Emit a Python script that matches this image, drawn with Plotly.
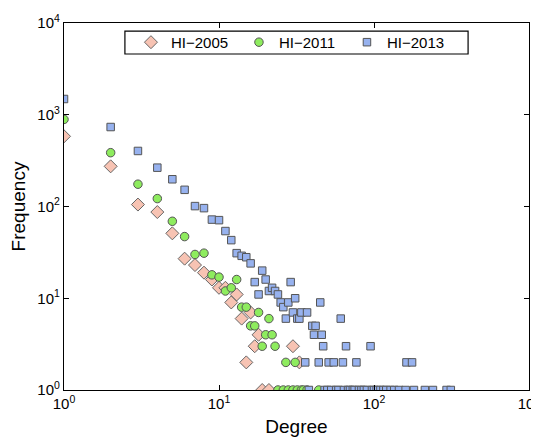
import plotly.graph_objects as go

# HI-2005 (diamonds)
k_2005 = [1, 2, 3, 4, 5, 6, 7, 8, 9, 10, 11, 12, 13, 14, 15, 16, 17, 18, 19, 21, 30, 33]
n_2005 = [582, 274, 105, 87, 51, 27, 23, 19, 16, 13, 13, 9, 11, 6, 2, 7, 3, 4, 1, 1, 3, 2]

# HI-2011 (circles)
k_2011 = [1, 2, 3, 4, 5, 6, 7, 8, 9, 10, 11, 12, 13, 14, 15, 16, 17, 18, 19, 20, 21, 22,
          23, 24, 26, 27, 28, 30, 31, 32, 34, 35, 37, 44]
n_2011 = [890, 386, 175, 122, 69, 47, 30, 31, 18, 17, 12, 13, 16, 8, 8, 5, 5, 7, 3, 4, 6, 4,
          3, 1, 1, 2, 1, 1, 2, 1, 1, 1, 1, 1]

# HI-2013 (squares)
k_2013 = [1, 2, 3, 4, 5, 6, 7, 8, 9, 10, 11, 12, 13, 14, 15, 16, 17, 18, 19, 20, 21, 22,
          23, 24, 25, 26, 27, 28, 29, 30, 31, 32, 33, 34, 36, 37, 38, 40, 41, 42, 44, 45,
          46, 47, 48, 50, 51, 53, 55, 57, 59, 61, 63, 64, 66, 68, 70, 73, 75, 77, 80, 83,
          86, 90, 95, 97, 100, 104, 110, 115, 120, 128, 135, 145, 160, 162, 176, 181, 213,
          240, 294, 313]
n_2013 = [1485, 735, 403, 265, 198, 152, 101, 96, 72, 71, 54, 43, 31, 29, 28, 24, 15, 11,
          20, 16, 12, 13, 12, 11, 9, 8, 6, 9, 15, 7, 10, 6, 6, 7, 2, 7, 1, 5, 4, 5, 2, 9,
          4, 3, 1, 1, 2, 1, 2, 1, 1, 6, 2, 1, 3, 1, 1, 1, 1, 2, 1, 1,
          1, 1, 3, 1, 1, 1, 1, 1, 1, 1, 1, 1, 1, 2, 2, 1, 1,
          1, 1, 1]

series_names = ["HI\u22122005", "HI\u22122011", "HI\u22122013"]
x_tickvals = [1, 10, 100, 1000]
x_ticktext = ["10<sup>0</sup>", "10<sup>1</sup>", "10<sup>2</sup>", "10<sup>3</sup>"]
y_tickvals = [1, 10, 100, 1000, 10000]
y_ticktext = ["10<sup>0</sup>", "10<sup>1</sup>", "10<sup>2</sup>", "10<sup>3</sup>", "10<sup>4</sup>"]

FONT = "Liberation Sans, Arial, sans-serif"

fig = go.Figure()
fig.add_trace(go.Scatter(x=k_2005, y=n_2005, mode="markers", name=series_names[0],
                         marker=dict(symbol="diamond", size=10, color="#F7C3B3",
                                     line=dict(color="#666666", width=1))))
fig.add_trace(go.Scatter(x=k_2011, y=n_2011, mode="markers", name=series_names[1],
                         marker=dict(symbol="circle", size=8.5, color="#8EEC5E",
                                     line=dict(color="#555555", width=1))))
fig.add_trace(go.Scatter(x=k_2013, y=n_2013, mode="markers", name=series_names[2],
                         marker=dict(symbol="square", size=7.5, color="#97B2EF",
                                     line=dict(color="#555555", width=1))))

axis_common = dict(type="log", showgrid=False, zeroline=False, showline=True,
                   linecolor="black", linewidth=1.2, mirror="ticks", ticks="inside",
                   ticklen=5, tickcolor="black", automargin=False,
                   ticklabeloverflow="allow",
                   tickfont=dict(family=FONT, size=15, color="black"))

fig.update_xaxes(range=[0, 3], tickvals=x_tickvals, ticktext=x_ticktext,
                 title=dict(text="Degree", font=dict(size=19, family=FONT, color="black"), standoff=12),
                 **axis_common)
fig.update_yaxes(range=[0, 4], tickvals=y_tickvals, ticktext=y_ticktext,
                 title=dict(text="Frequency", font=dict(size=19, family=FONT, color="black"), standoff=8),
                 **axis_common)

# legend frame
fig.add_shape(type="rect", xref="paper", yref="paper",
              x0=0.131, x1=0.869, y0=0.9155, y1=0.978,
              line=dict(color="black", width=1.2), fillcolor="white", layer="below")

fig.update_layout(
    width=531, height=429,
    margin=dict(l=56, r=10, t=15, b=47),
    paper_bgcolor="white", plot_bgcolor="white",
    showlegend=True,
    legend=dict(orientation="h", x=0.144, xanchor="left", y=0.992, yanchor="top",
                borderwidth=0, bgcolor="rgba(0,0,0,0)", itemsizing="trace",
                font=dict(family=FONT, size=15, color="black"),
                entrywidth=63, entrywidthmode="pixels", itemwidth=30),
)

fig.write_html("out.html")
